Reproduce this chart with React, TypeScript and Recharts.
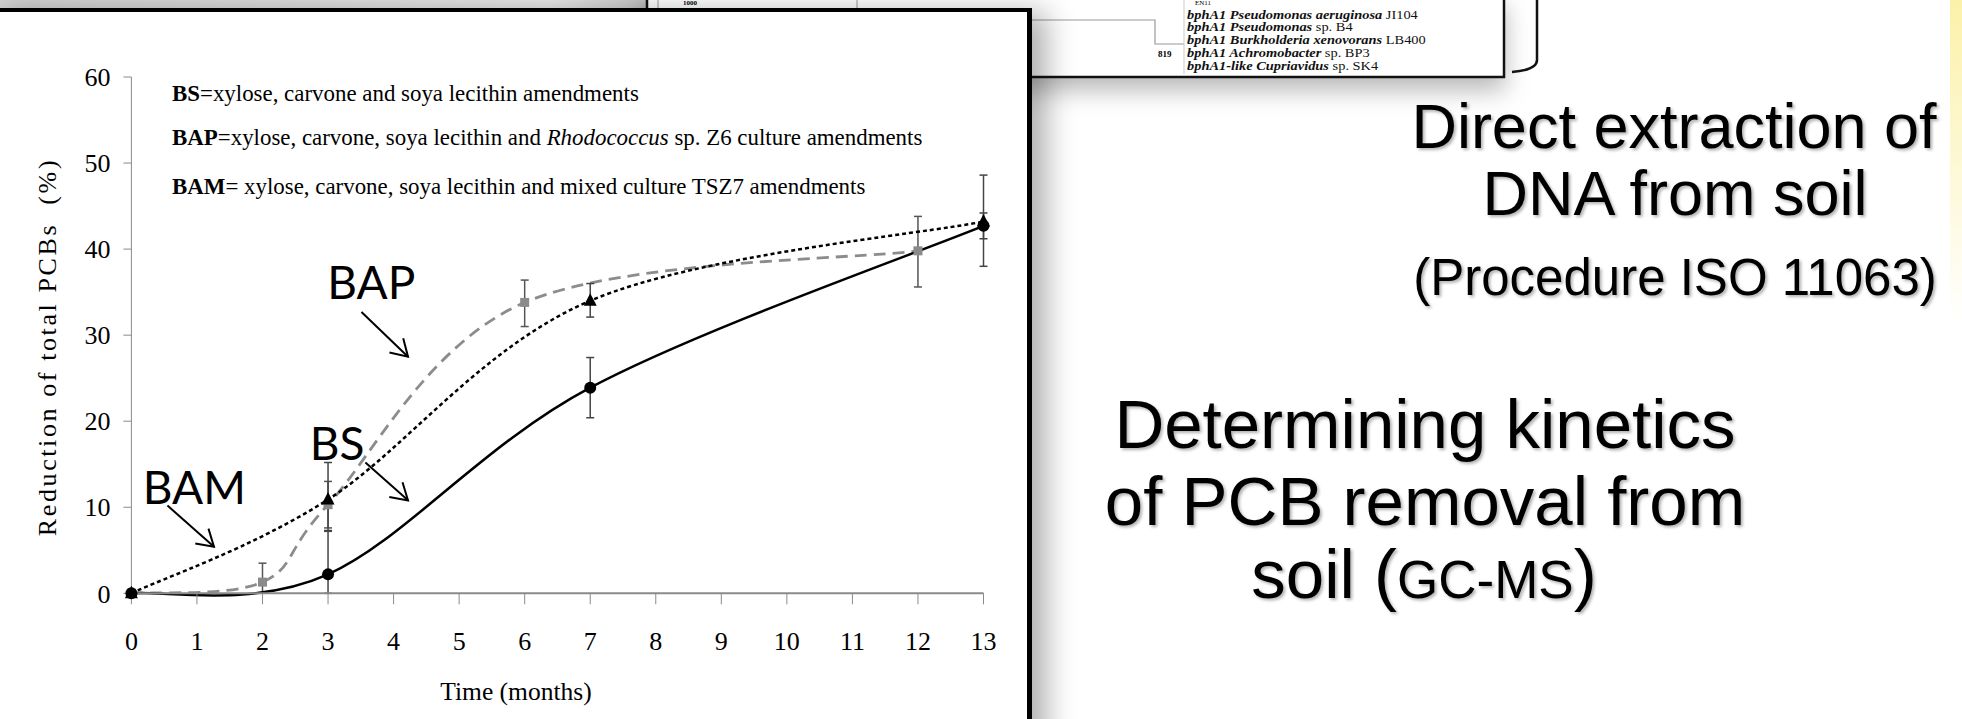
import React from "react";
import {
  LineChart,
  Line,
  XAxis,
  YAxis,
  ErrorBar,
  ReferenceLine,
  ReferenceDot,
  Legend,
} from "recharts";

// time axis (months) and % axis
const MONTH_TICKS = [0, 1, 2, 3, 4, 5, 6, 7, 8, 9, 10, 11, 12, 13];
const PCT_TICKS = [0, 10, 20, 30, 40, 50, 60];

// BS = xylose, carvone, soya lecithin
const BS_MONTHS = [0, 3, 7, 13];
const BS_VALUES = [0, 2.2, 23.9, 42.7];
const BS_ERR_LOW = [0, 2.2, 3.5, 1.5];
const BS_ERR_HIGH = [0, 5.0, 3.5, 1.5];

// BAP = + Rhodococcus sp. Z6
const BAP_MONTHS = [0, 2, 3, 6, 12];
const BAP_VALUES = [0, 1.3, 10.3, 33.8, 39.8];
const BAP_ERR_LOW = [0, 1.3, 2.7, 2.8, 4.2];
const BAP_ERR_HIGH = [0, 2.2, 2.7, 2.6, 4.0];

// BAM = + mixed culture TSZ7
const BAM_MONTHS = [0, 3, 7, 13];
const BAM_VALUES = [0, 10.9, 34.0, 43.2];
const BAM_ERR_LOW = [0, 3.6, 1.9, 5.2];
const BAM_ERR_HIGH = [0, 4.3, 2.0, 5.4];

// annotations (in data units)
const NOTE_TEXT = ["BAP", "BS", "BAM"];
const NOTE_AT = [
  [3.66, 34.2],
  [3.14, 15.45],
  [0.96, 10.4],
];
const ARROW_FROM = [
  [3.51, 32.7],
  [3.57, 15.2],
  [0.55, 10.2],
];
const ARROW_TO = [
  [4.22, 27.5],
  [4.22, 10.8],
  [1.26, 5.4],
];

const TREE_LINES = [
  ["bphA1 Pseudomonas aeruginosa", " JI104"],
  ["bphA1 Pseudomonas", " sp. B4"],
  ["bphA1 Burkholderia xenovorans", " LB400"],
  ["bphA1 Achromobacter", " sp. BP3"],
  ["bphA1-like Cupriavidus", " sp. SK4"],
];

const toRows = (xs: number[], ys: number[], lo: number[], hi: number[]) =>
  xs.map((x, i) => ({ x, y: ys[i], err: [lo[i], hi[i]] }));

const bsData = toRows(BS_MONTHS, BS_VALUES, BS_ERR_LOW, BS_ERR_HIGH);
const bapData = toRows(BAP_MONTHS, BAP_VALUES, BAP_ERR_LOW, BAP_ERR_HIGH);
const bamData = toRows(BAM_MONTHS, BAM_VALUES, BAM_ERR_LOW, BAM_ERR_HIGH);

const SERIF = "'Liberation Serif', 'Times New Roman', serif";
const SANS = "'Liberation Sans', Arial, sans-serif";

// Excel-like smoothed line (catmull-rom through the points)
function smoothCurve(context: any) {
  let pts: number[][] = [];
  return {
    areaStart() {},
    areaEnd() {},
    lineStart() {
      pts = [];
    },
    point(x: number, y: number) {
      pts.push([+x, +y]);
    },
    lineEnd() {
      const n = pts.length;
      if (!n) return;
      context.moveTo(pts[0][0], pts[0][1]);
      for (let i = 0; i < n - 1; i++) {
        const p0 = pts[i === 0 ? 0 : i - 1];
        const p1 = pts[i];
        const p2 = pts[i + 1];
        const p3 = pts[i + 2 < n ? i + 2 : n - 1];
        context.bezierCurveTo(
          p1[0] + (p2[0] - p0[0]) / 6,
          p1[1] + (p2[1] - p0[1]) / 6,
          p2[0] - (p3[0] - p1[0]) / 6,
          p2[1] - (p3[1] - p1[1]) / 6,
          p2[0],
          p2[1]
        );
      }
    },
  };
}

const circleDot = (p: any) => (
  <circle key={`c${p.index}`} cx={p.cx} cy={p.cy} r={6} fill="#000" />
);
const triangleDot = (p: any) => (
  <path
    key={`t${p.index}`}
    d={`M${p.cx},${p.cy - 7.5} L${p.cx + 6.5},${p.cy + 5} L${p.cx - 6.5},${p.cy + 5} Z`}
    fill="#000"
  />
);
const squareDot = (p: any) => (
  <rect key={`s${p.index}`} x={p.cx - 4.5} y={p.cy - 4.5} width={9} height={9} fill="#8a8a8a" />
);

function arrowShape(p: any) {
  const { x1, y1, x2, y2 } = p;
  const ang = Math.atan2(y2 - y1, x2 - x1);
  const L = 19;
  const a = 0.55;
  const ax = x2 - L * Math.cos(ang - a);
  const ay = y2 - L * Math.sin(ang - a);
  const bx = x2 - L * Math.cos(ang + a);
  const by = y2 - L * Math.sin(ang + a);
  return (
    <g>
      <line x1={x1} y1={y1} x2={x2} y2={y2} stroke="#000" strokeWidth={2} />
      <polyline points={`${ax},${ay} ${x2},${y2} ${bx},${by}`} fill="none" stroke="#000" strokeWidth={2} />
    </g>
  );
}

const noteShape = (text: string) => (p: any) => (
  <text
    x={p.cx}
    y={p.cy}
    textAnchor="middle"
    fontFamily="Lato, 'Open Sans', sans-serif"
    fontSize={46}
    fill="#000"
  >
    {text}
  </text>
);

function LegendBox() {
  return (
    <svg width={800} height={130} style={{ overflow: "visible" }}>
      <g fontFamily={SERIF} fontSize={22.9} fill="#000">
        <text x={0} y={24}>
          <tspan fontWeight="bold">BS</tspan>=xylose, carvone and soya lecithin amendments
        </text>
        <text x={0} y={68}>
          <tspan fontWeight="bold">BAP</tspan>=xylose, carvone, soya lecithin and{" "}
          <tspan fontStyle="italic">Rhodococcus</tspan> sp. Z6 culture amendments
        </text>
        <text x={0} y={117}>
          <tspan fontWeight="bold">BAM</tspan>= xylose, carvone, soya lecithin and mixed culture TSZ7 amendments
        </text>
      </g>
    </svg>
  );
}

function PcbChart() {
  return (
    <LineChart
      width={1025}
      height={719}
      margin={{ top: 77, right: 41.5, left: 71.4, bottom: 65.7 }}
    >
      <XAxis
        type="number"
        dataKey="x"
        domain={[0, 13]}
        ticks={MONTH_TICKS}
        interval={0}
        height={60}
        stroke="#8a8a8a"
        strokeWidth={2}
        tickSize={11}
        tickMargin={27}
        tick={{ fontFamily: SERIF, fontSize: 26, fill: "#000" }}
        tickLine={{ stroke: "#8a8a8a", strokeWidth: 1 }}
        label={{
          content: () => (
            <text x={516} y={700} textAnchor="middle" fontFamily={SERIF} fontSize={25.5} fill="#000">
              Time (months)
            </text>
          ),
        }}
      />
      <YAxis
        type="number"
        domain={[0, 60]}
        ticks={PCT_TICKS}
        width={60}
        stroke="#8a8a8a"
        tickSize={8}
        tickMargin={13}
        tick={{ fontFamily: SERIF, fontSize: 26, fill: "#000" }}
        label={{
          content: () => (
            <text
              x={47.5}
              y={347}
              transform="rotate(-90 47.5 347)"
              textAnchor="middle"
              dominantBaseline="central"
              fontFamily={SERIF}
              fontSize={26}
              letterSpacing={2.6}
              fill="#000"
            >
              Reduction of total PCBs {"\u00a0"}(%)
            </text>
          ),
        }}
      />
      <Legend
        layout="horizontal"
        verticalAlign="middle"
        align="center"
        wrapperStyle={{ left: 172, top: 77, width: 800, height: 130 }}
        content={() => <LegendBox />}
      />

      <Line
        data={bapData}
        dataKey="y"
        type={smoothCurve as any}
        stroke="#8c8c8c"
        strokeWidth={2.8}
        strokeDasharray="12 7"
        dot={squareDot}
        activeDot={false}
        isAnimationActive={false}
      >
        <ErrorBar dataKey="err" width={4} stroke="#555" strokeWidth={1.5} direction="y" isAnimationActive={false} />
      </Line>
      <Line
        data={bamData}
        dataKey="y"
        type={smoothCurve as any}
        stroke="#000"
        strokeWidth={2.5}
        strokeDasharray="4 3"
        dot={triangleDot}
        activeDot={false}
        isAnimationActive={false}
      >
        <ErrorBar dataKey="err" width={4} stroke="#444" strokeWidth={1.5} direction="y" isAnimationActive={false} />
      </Line>
      <Line
        data={bsData}
        dataKey="y"
        type={smoothCurve as any}
        stroke="#000"
        strokeWidth={2.5}
        dot={circleDot}
        activeDot={false}
        isAnimationActive={false}
      >
        <ErrorBar dataKey="err" width={4} stroke="#444" strokeWidth={1.5} direction="y" isAnimationActive={false} />
      </Line>

      {NOTE_TEXT.map((t, i) => (
        <ReferenceLine
          key={`a${t}`}
          segment={[
            { x: ARROW_FROM[i][0], y: ARROW_FROM[i][1] },
            { x: ARROW_TO[i][0], y: ARROW_TO[i][1] },
          ]}
          shape={arrowShape}
        />
      ))}
      {NOTE_TEXT.map((t, i) => (
        <ReferenceDot key={`n${t}`} x={NOTE_AT[i][0]} y={NOTE_AT[i][1]} r={0} shape={noteShape(t)} />
      ))}
    </LineChart>
  );
}

function Backdrop() {
  return (
    <svg width={1962} height={719} style={{ position: "absolute", left: 0, top: 0 }}>
      <defs>
        <linearGradient id="topStrip" x1="0" x2="1" y1="0" y2="0">
          <stop offset="0" stopColor="#d2d2d2" />
          <stop offset="0.85" stopColor="#e9e9e9" />
          <stop offset="1" stopColor="#c9c9c9" />
        </linearGradient>
        <linearGradient id="yellow" x1="0" x2="0" y1="0" y2="1">
          <stop offset="0" stopColor="#fbefa0" stopOpacity={0.9} />
          <stop offset="0.45" stopColor="#fbefa0" stopOpacity={0} />
        </linearGradient>
        <filter id="soft" x="-5%" y="-20%" width="110%" height="140%">
          <feDropShadow dx="2" dy="2" stdDeviation="1.5" floodColor="#000" floodOpacity="0.3" />
        </filter>
      </defs>
      <rect x={0} y={0} width={648} height={10} fill="url(#topStrip)" />
      <rect x={1950} y={0} width={12} height={719} fill="url(#yellow)" />

      {/* tree figure box behind the chart frame */}
      <rect x={647} y={-5} width={857} height={82} fill="#fff" stroke="#111" strokeWidth={2.5}
        style={{ filter: "drop-shadow(0 12px 12px rgba(0,0,0,0.28))" }} />
      <line x1={658} y1={0} x2={658} y2={10} stroke="#999" />
      <line x1={857} y1={0} x2={857} y2={10} stroke="#999" />
      <text x={683} y={5} fontFamily={SERIF} fontSize={7} fontWeight="bold">1000</text>
      <path d="M1030,20 H1155 V44 H1184" fill="none" stroke="#999" strokeWidth={1.2} />
      <line x1={1184} y1={0} x2={1184} y2={74} stroke="#ccc" />
      <text x={1195} y={5} fontFamily={SERIF} fontSize={7}>EN11</text>
      <text x={1158} y={57} fontFamily={SERIF} fontSize={9} fontWeight="bold">819</text>
      <g transform="translate(1187 0) scale(1.2 1)" fontFamily={SERIF} fontSize={12} fill="#111">
        {TREE_LINES.map((l, i) => (
          <text key={l[0]} x={0} y={[19, 31, 44, 57, 70][i]}>
            <tspan fontStyle="italic" fontWeight="bold">{l[0]}</tspan>
            {l[1]}
          </text>
        ))}
      </g>
      <path d="M1537,-2 V60 Q1537,70 1512,72" fill="none" stroke="#111" strokeWidth={2.5} />

      <g fontFamily={SANS} fill="#000" textAnchor="middle" filter="url(#soft)">
        <text x={1674} y={148} fontSize={63}>Direct extraction of</text>
        <text x={1675} y={215} fontSize={63}>DNA from soil</text>
        <text x={1675} y={295} fontSize={51}>(Procedure ISO 11063)</text>
        <text x={1425} y={448} fontSize={69}>Determining kinetics</text>
        <text x={1425} y={525} fontSize={69}>of PCB removal from</text>
        <text x={1424} y={598} fontSize={69}>
          soil (<tspan fontSize={53}>GC-MS</tspan>)
        </text>
      </g>
    </svg>
  );
}

export default function App() {
  return (
    <div
      style={{
        position: "fixed",
        left: 0,
        top: 0,
        width: 1962,
        height: 719,
        overflow: "hidden",
        background: "#fff",
      }}
    >
      <Backdrop />
      <div
        style={{
          position: "absolute",
          left: -10,
          top: 8,
          width: 1037,
          height: 740,
          background: "#fff",
          borderTop: "4.5px solid #000",
          borderRight: "5px solid #000",
          boxShadow: "14px 4px 28px rgba(0,0,0,0.32)",
        }}
      />
      <div style={{ position: "absolute", left: 0, top: 0 }}>
        <PcbChart />
      </div>
    </div>
  );
}
